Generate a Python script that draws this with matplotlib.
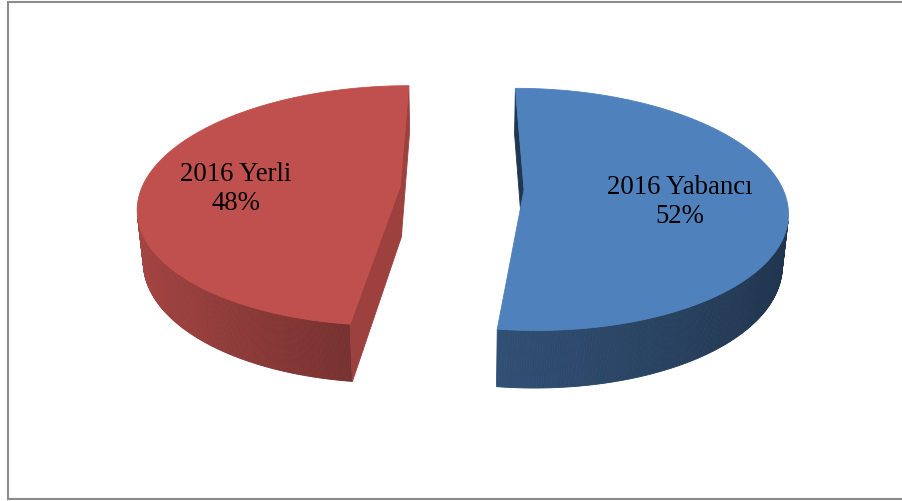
import numpy as np
import matplotlib
matplotlib.use("Agg")
import matplotlib.pyplot as plt
from matplotlib.patches import Polygon
from matplotlib.colors import to_rgb

# ---- data ----
categories = ["2016 Yabancı", "2016 Yerli"]
values = [52, 48]
colors = ["#4F81BD", "#C0504D"]

# ---- 3D view parameters (pixels / unit radius) ----
W, Hpx = 902, 501
D = 5.51                       # camera distance
ELEV = np.radians(27)
cE, sE = np.cos(ELEV), np.sin(ELEV)
F = 1424.0
CX, CY = 462.0, 188.0
THICK = 0.225
EXPL = 0.24
CAM = np.array([0.0, -D * cE, D * sE])


def proj(X, Y, Z):
    X = np.asarray(X, float); Y = np.asarray(Y, float); Z = np.asarray(Z, float)
    dist = D + Y * cE - Z * sE
    sx = CX + F * X / dist
    sy = CY - F * (Y * sE + Z * cE) / dist
    return sx, sy


def shade(col, f):
    r, g, b = to_rgb(col)
    return (r * f, g * f, b * f)


fig = plt.figure(figsize=(W / 100, Hpx / 100), dpi=100)
ax = fig.add_axes([0, 0, 1, 1])
ax.set_xlim(0, W)
ax.set_ylim(Hpx, 0)
ax.axis("off")

# frame
fc = "#8c8c8c"
ax.plot([8, 8], [1.5, 498.5], color=fc, lw=1.5, solid_capstyle="butt")
ax.plot([8, W + 2], [1.5, 1.5], color=fc, lw=1.5)
ax.plot([8, W + 2], [498.5, 498.5], color=fc, lw=1.5)

total = float(sum(values))
start = 90.0
for cat, val, col in zip(categories, values, colors):
    sweep = 360.0 * val / total
    t_hi = np.radians(start)
    t_lo = np.radians(start - sweep)
    start -= sweep
    mid = 0.5 * (t_hi + t_lo)
    ox, oy = EXPL * np.cos(mid), EXPL * np.sin(mid)

    th = np.linspace(t_lo, t_hi, 400)
    px = ox + np.cos(th)
    py = oy + np.sin(th)

    # outer wall (front facing segments)
    for i in range(len(th) - 1):
        tm = 0.5 * (th[i] + th[i + 1])
        P = np.array([ox + np.cos(tm), oy + np.sin(tm), 0.0])
        n = np.array([np.cos(tm), np.sin(tm), 0.0])
        if np.dot(CAM - P, n) <= 0:
            continue
        f = np.interp(np.cos(tm), [-1, -0.1, 1], [0.875, 0.61, 0.40])
        xs = [px[i], px[i + 1], px[i + 1], px[i]]
        ys = [py[i], py[i + 1], py[i + 1], py[i]]
        zs = [0, 0, -THICK, -THICK]
        sx, sy = proj(xs, ys, zs)
        c = shade(col, f)
        ax.add_patch(Polygon(np.c_[sx, sy], closed=True, fc=c, ec=c, lw=0.6))

    # cut faces
    for ang, nang in ((t_lo, t_lo - np.pi / 2), (t_hi, t_hi + np.pi / 2)):
        n = np.array([np.cos(nang), np.sin(nang), 0.0])
        O = np.array([ox, oy, 0.0])
        if np.dot(CAM - O, n) <= 0:
            continue
        ex, ey = ox + np.cos(ang), oy + np.sin(ang)
        xs = [ox, ex, ex, ox]
        ys = [oy, ey, ey, oy]
        zs = [0, 0, -THICK, -THICK]
        sx, sy = proj(xs, ys, zs)
        f = 0.81 if col == colors[1] else 0.42
        c = shade(col, f)
        ax.add_patch(Polygon(np.c_[sx, sy], closed=True, fc=c, ec=c, lw=0.6))

    # top face
    tx = np.r_[ox, px]
    ty = np.r_[oy, py]
    sx, sy = proj(tx, ty, np.zeros_like(tx))
    ax.add_patch(Polygon(np.c_[sx, sy], closed=True, fc=col, ec=col, lw=0.6))

    # label
    r = 0.62
    lx, ly = proj(ox + r * np.cos(mid), oy + r * np.sin(mid), 0.0)
    ax.annotate(f"{cat}\n{val}%", (lx, ly), xytext=(-4.3, -5.5),
                textcoords="offset points", ha="center", va="center",
                fontsize=19.3, family="Liberation Serif", color="black",
                linespacing=1.2)

fig.savefig("out.png", dpi=100)
